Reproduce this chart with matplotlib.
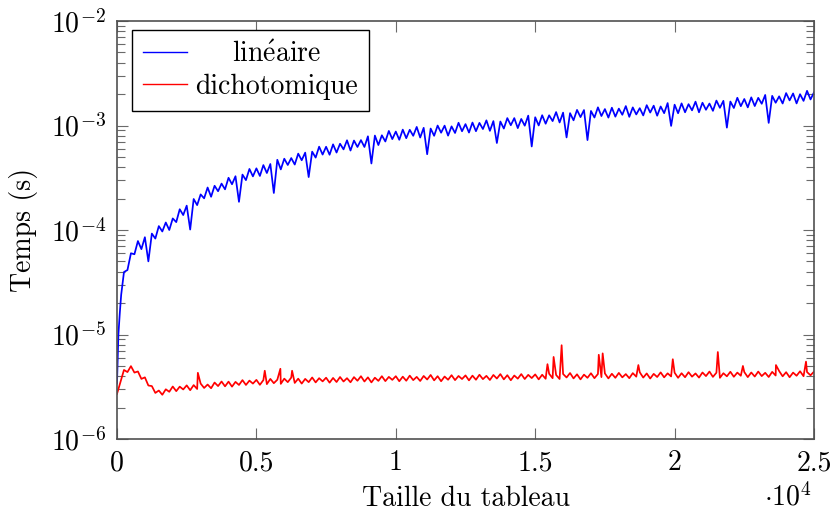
import numpy as np
import matplotlib
matplotlib.use("Agg")
import matplotlib.pyplot as plt
from matplotlib.ticker import FixedLocator, FuncFormatter, LogLocator, NullFormatter

# ---------------- data ----------------
# array sizes (main grid)
taille_lin = [0, 50, 100, 150] + list(range(250, 25001, 250))
# linear search time, in microseconds (upper side of the noisy band)
temps_lin_us = [
    3.4, 10, 16, 24,
    39.6, 59.9, 78.4, 85.3, 92.4, 109, 118, 129, 158, 171,
    198, 219, 255, 265, 278, 316, 327, 339, 384, 389,
    418, 428, 470, 481, 488, 538, 550, 562, 627, 626,
    660, 669, 722, 718, 725, 788, 801, 806, 887, 875,
    913, 910, 969, 950, 935, 999, 997, 981, 1062, 1031,
    1067, 1059, 1120, 1102, 1092, 1177, 1177, 1155, 1243, 1199,
    1254, 1252, 1344, 1328, 1313, 1410, 1406, 1378, 1492, 1436,
    1480, 1450, 1534, 1490, 1465, 1565, 1548, 1521, 1639, 1582,
    1628, 1600, 1691, 1652, 1622, 1732, 1722, 1696, 1842, 1793,
    1859, 1840, 1960, 1922, 1901, 2042, 2027, 1993, 2147, 2074,
]
# intermediate sizes (lower side of the band, with the dips)
taille_lin_mi = list(range(375, 24876, 250))
temps_lin_mi_us = [
    41.4, 58.6, 65.6, 50.1, 82.8, 96.8, 100, 119, 139, 101,
    173, 201, 208, 235, 245, 274, 186, 300, 326, 329,
    351, 226, 380, 419, 423, 465, 321, 493, 527, 525,
    551, 591, 576, 623, 623, 433, 650, 703, 741, 730,
    756, 797, 767, 531, 797, 853, 800, 848, 881, 856,
    882, 925, 889, 680, 935, 1006, 944, 996, 630, 1001,
    1040, 1102, 1069, 769, 1121, 1203, 725, 1192, 1232, 1190,
    1215, 1267, 1210, 1276, 1248, 1330, 1241, 1312, 991, 1310,
    1338, 1397, 1338, 1414, 1381, 1476, 954, 1470, 1530, 1491,
    1535, 1614, 1059, 1651, 1624, 1739, 1627, 1720, 1776,
]

taille_dich = list(range(0, 25001, 250))
# binary search time, in microseconds (upper side of the band)
temps_dich_us = [
    2.7, 4.58, 4.98, 4.43, 3.89, 3.21, 2.91, 2.99, 3.18, 3.17,
    3.26, 3.28, 3.39, 3.32, 3.47, 3.55, 3.54, 3.52, 3.66, 3.62,
    3.68, 3.66, 3.76, 3.69, 3.78, 3.87, 3.78, 3.76, 3.88, 3.82,
    3.86, 3.84, 3.92, 3.82, 3.91, 3.99, 3.89, 3.86, 3.99, 3.93,
    3.99, 3.95, 4.04, 3.93, 4.01, 4.10, 3.99, 3.96, 4.08, 4.01,
    4.06, 4.04, 4.12, 4.02, 4.10, 4.18, 4.08, 4.05, 4.18, 4.11,
    4.15, 4.12, 4.21, 4.10, 4.19, 4.28, 4.16, 4.13, 4.26, 4.19,
    4.24, 4.21, 4.29, 4.18, 4.27, 4.35, 4.24, 4.20, 4.34, 4.25,
    4.31, 4.26, 4.36, 4.24, 4.33, 4.42, 4.31, 4.26, 4.40, 4.32,
    4.37, 4.33, 4.42, 4.30, 4.39, 4.47, 4.36, 4.32, 4.45, 4.37,
    4.41,
]
taille_dich_mi = list(range(375, 24876, 250))
temps_dich_mi_us = [
    4.37, 4.32, 3.76, 3.25, 2.76, 2.65, 2.83, 2.87, 2.98, 2.93,
    3.01, 3.08, 3.06, 3.21, 3.19, 3.17, 3.29, 3.29, 3.39, 3.30,
    3.35, 3.42, 3.37, 3.50, 3.44, 3.39, 3.50, 3.48, 3.56, 3.46,
    3.51, 3.55, 3.49, 3.61, 3.55, 3.48, 3.60, 3.58, 3.68, 3.57,
    3.61, 3.66, 3.59, 3.71, 3.64, 3.57, 3.69, 3.66, 3.75, 3.64,
    3.69, 3.74, 3.67, 3.79, 3.72, 3.65, 3.78, 3.75, 3.83, 3.72,
    3.77, 3.82, 3.75, 3.88, 3.80, 3.72, 3.85, 3.82, 3.91, 3.80,
    3.85, 3.89, 3.82, 3.95, 3.87, 3.79, 3.92, 3.89, 3.97, 3.85,
    3.90, 3.95, 3.87, 4.00, 3.93, 3.85, 3.98, 3.94, 4.03, 3.91,
    3.96, 4.00, 3.92, 4.05, 3.98, 3.90, 4.03, 3.99, 4.07,
]
# isolated peaks of the binary search curve
pics_taille = [2900, 5300, 5860, 6280, 15440, 15660, 15948, 17280, 17420,
               18700, 19935, 21550, 22450, 23635, 24713]
pics_temps_us = [4.3, 4.5, 4.7, 4.5, 5.2, 6.1, 7.9, 6.4, 6.6,
                 5.1, 5.8, 6.8, 5.0, 5.1, 5.5]

x_ticks = [0, 5000, 10000, 15000, 20000, 25000]
y_ticks = [1e-6, 1e-5, 1e-4, 1e-3, 1e-2]
label_lin = r"$\mathrm{lin\acute{e}aire}$"
label_dich = "dichotomique"

# ---------------- style ----------------
plt.rcParams["font.family"] = ["cmr10", "DejaVu Serif"]
plt.rcParams["mathtext.fontset"] = "cm"
plt.rcParams["axes.formatter.use_mathtext"] = True
FS = 20

fig = plt.figure(figsize=(8.33, 5.13), dpi=100)
W, H = 833, 513
ax = fig.add_axes([117 / W, (H - 439) / H, 697 / W, 418 / H])


def merge(xs, ys):
    x = np.concatenate([np.asarray(a, float) for a in xs])
    y = np.concatenate([np.asarray(b, float) for b in ys])
    o = np.argsort(x, kind="stable")
    return x[o], y[o] * 1e-6


xl, yl = merge([taille_lin, taille_lin_mi], [temps_lin_us, temps_lin_mi_us])
xd, yd = merge([taille_dich, taille_dich_mi, pics_taille],
               [temps_dich_us, temps_dich_mi_us, pics_temps_us])

ax.plot(xl, yl, color=(0, 0, 1), lw=1.25, label=label_lin)
ax.plot(xd, yd, color=(1, 0, 0), lw=1.25, label=label_dich)

ax.set_yscale("log")
ax.set_xlim(0, 25000)
ax.set_ylim(1e-6, 1e-2)

ax.xaxis.set_major_locator(FixedLocator(x_ticks))
ax.xaxis.set_major_formatter(FuncFormatter(lambda v, p: f"{v / 1e4:g}"))
ax.yaxis.set_major_locator(FixedLocator(y_ticks))
ax.yaxis.set_major_formatter(
    FuncFormatter(lambda v, p: r"$10^{%d}$" % int(round(np.log10(v)))))
ax.yaxis.set_minor_locator(LogLocator(base=10, subs=np.arange(2, 10), numticks=20))
ax.yaxis.set_minor_formatter(NullFormatter())

tick_col = "#6a6a6a"
ax.tick_params(axis="both", which="major", direction="in", length=8, width=0.8,
               color=tick_col, top=True, right=True, labelsize=FS, pad=8)
ax.tick_params(axis="y", which="minor", direction="in", length=5.5, width=0.8,
               color=tick_col, left=True, right=True)
for s in ax.spines.values():
    s.set_color("#505050")
    s.set_linewidth(1.2)

ax.set_xlabel("Taille du tableau", fontsize=FS, labelpad=7)
ax.set_ylabel("Temps (s)", fontsize=FS, labelpad=9)
ax.text(0.997, -0.158, r"$\cdot 10^{4}$", transform=ax.transAxes,
        ha="right", va="baseline", fontsize=FS)

leg = ax.legend(loc="upper left", bbox_to_anchor=((131.7 - 117) / 697, (439 - 30) / 418),
                borderaxespad=0, fontsize=FS, frameon=True, fancybox=False,
                edgecolor="black", handlelength=1.6, handletextpad=0.3,
                borderpad=0.4, labelspacing=0.2)
leg.get_frame().set_linewidth(1.0)
leg.get_frame().set_alpha(1)
for h in leg.get_lines():
    h.set_linewidth(1.0)

# centre the legend texts like pgfplots
fig.canvas.draw()
r = fig.canvas.get_renderer()
widths = [t.get_window_extent(r).width for t in leg.get_texts()]
wmax = max(widths)
for t, w in zip(leg.get_texts(), widths):
    t.set_position(((wmax - w) / 2, 0))

fig.savefig("out.png", dpi=100)
